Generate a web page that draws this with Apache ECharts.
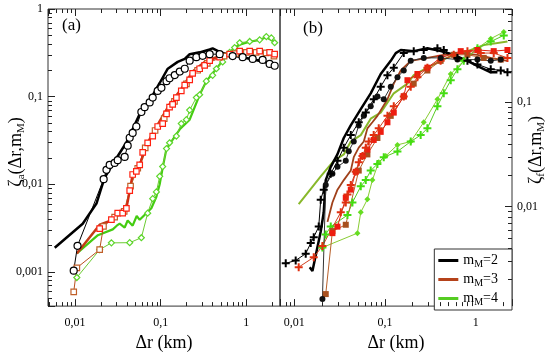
<!DOCTYPE html>
<html><head><meta charset="utf-8">
<script src="https://cdn.jsdelivr.net/npm/echarts@6/dist/echarts.min.js"></script>
<style>html,body{margin:0;padding:0;background:#fff}#c{width:550px;height:357px}</style>
</head><body><div id="c"></div>
<script>
// ---------- Panel (a) data : [Δr (km), ζa] ----------
const aBlackLine = [[0.0058,0.00188],[0.0123,0.00354],[0.0149,0.00467],[0.0178,0.00602],[0.0198,0.0084],[0.0222,0.0119],[0.0304,0.0198],[0.0398,0.0299],[0.0569,0.0634],[0.0778,0.0975],[0.0974,0.143],[0.121,0.208],[0.158,0.249],[0.191,0.269],[0.218,0.305],[0.285,0.320],[0.373,0.345],[0.404,0.355],[0.50,0.32],[0.639,0.30],[1.09,0.27],[1.6,0.25],[1.95,0.235]];
const aBlackCircles = [[0.00966,0.00103],[0.0107,0.00198],[0.0216,0.0114],[0.0233,0.0146],[0.0254,0.0166],[0.029,0.0175],[0.0315,0.0188],[0.038,0.0205],[0.0412,0.0275],[0.0435,0.0339],[0.0471,0.0385],[0.052,0.0456],[0.0595,0.0667],[0.065,0.0757],[0.0744,0.0859],[0.0807,0.0975],[0.0923,0.116],[0.102,0.126],[0.117,0.150],[0.127,0.162],[0.146,0.176],[0.167,0.193],[0.191,0.208],[0.218,0.257],[0.261,0.282],[0.309,0.292],[0.373,0.305],[0.488,0.305],[0.692,0.29],[0.905,0.282],[1.185,0.269],[1.549,0.262],[1.869,0.236],[2.14,0.225]];
const aRedLine = [[0.0105,0.00162],[0.0194,0.00345],[0.0275,0.00392],[0.0398,0.0053],[0.0435,0.0084],[0.0471,0.0129],[0.0569,0.0166],[0.0705,0.0297],[0.0923,0.048],[0.127,0.0817],[0.174,0.122],[0.236,0.193],[0.326,0.249],[0.488,0.292],[0.73,0.325],[1.094,0.33],[1.65,0.33],[2.14,0.31]];
const aRedSquares = [[0.0194,0.00311],[0.0266,0.00395],[0.0315,0.00467],[0.036,0.00467],[0.0398,0.00531],[0.0435,0.00844],[0.0471,0.0129],[0.052,0.014],[0.0569,0.0166],[0.0617,0.0231],[0.0705,0.0297],[0.0807,0.0354],[0.0923,0.0456],[0.1055,0.0492],[0.117,0.0634],[0.127,0.0757],[0.138,0.0817],[0.1525,0.0975],[0.174,0.116],[0.191,0.135],[0.218,0.155],[0.236,0.184],[0.285,0.208],[0.326,0.227],[0.373,0.257],[0.488,0.282],[0.639,0.305],[0.835,0.331],[1.094,0.331],[1.43,0.331],[1.869,0.32],[2.14,0.305]];
const aBrownSquares = [[0.00966,0.00059],[0.0105,0.00111],[0.0194,0.00179],[0.0215,0.0033],[0.029,0.0042],[0.0375,0.0049],[0.0445,0.0095],[0.054,0.0152],[0.066,0.026],[0.086,0.041],[0.11,0.056],[0.145,0.088],[0.2,0.14],[0.27,0.2],[0.35,0.24],[0.55,0.29],[0.75,0.31],[1.0,0.32],[1.3,0.32],[1.7,0.315],[2.1,0.29]];
const aGreenLine = [[0.0105,0.00162],[0.0185,0.00262],[0.0276,0.00305],[0.0307,0.00336],[0.0332,0.00354],[0.038,0.0032],[0.0412,0.00385],[0.0471,0.00336],[0.0525,0.00433],[0.0569,0.00392],[0.068,0.00467],[0.0778,0.00531],[0.0891,0.00719],[0.0974,0.01],[0.1055,0.0154],[0.117,0.0255],[0.167,0.0423],[0.218,0.0545],[0.285,0.105],[0.341,0.150],[0.447,0.208],[0.584,0.290],[0.692,0.345],[0.835,0.392],[1.094,0.423],[1.43,0.445],[1.71,0.476],[2.14,0.423]];
const aGreenDiamonds = [[0.0105,0.00086],[0.0194,0.00179],[0.0266,0.00214],[0.0435,0.00215],[0.0595,0.00245],[0.0705,0.00467],[0.0807,0.00684],[0.0891,0.00817],[0.0974,0.0123],[0.1055,0.0159],[0.117,0.0255],[0.127,0.0297],[0.1525,0.0354],[0.174,0.0492],[0.1995,0.0545],[0.218,0.0702],[0.261,0.0975],[0.285,0.105],[0.341,0.150],[0.404,0.175],[0.447,0.208],[0.529,0.249],[0.639,0.320],[0.73,0.363],[0.835,0.412],[1.094,0.426],[1.43,0.445],[1.711,0.484],[1.958,0.468],[2.14,0.412]];

// ---------- Panel (b) data : [Δr (km), ζf] ----------
const bBlackLine = [[0.01478,0.00261],[0.01584,0.0024],[0.01954,0.00574],[0.02109,0.00879],[0.02219,0.0179],[0.02519,0.024],[0.02985,0.0316],[0.03506,0.0454],[0.04186,0.06],[0.054,0.0861],[0.0695,0.122],[0.0896,0.187],[0.1156,0.25],[0.1313,0.297],[0.1491,0.318],[0.2072,0.31],[0.2934,0.33],[0.4115,0.31],[0.572,0.286],[0.81,0.25],[1.135,0.215],[1.463,0.194],[1.733,0.194]];
const bBlackCircles = [[0.0204,0.00129],[0.0222,0.0161],[0.0263,0.0206],[0.0299,0.024],[0.0369,0.0274],[0.0398,0.0339],[0.0452,0.042],[0.0513,0.06],[0.0583,0.0741],[0.0695,0.0918],[0.0824,0.114],[0.0968,0.107],[0.1156,0.141],[0.1371,0.174],[0.1608,0.202],[0.192,0.25],[0.267,0.267],[0.4115,0.267],[0.628,0.257],[1.044,0.257],[1.463,0.25],[1.887,0.257]];
const bBlackPlus = [[0.00804,0.00284],[0.01035,0.00303],[0.01335,0.00352],[0.01516,0.00445],[0.01637,0.00506],[0.01858,0.0064],[0.01954,0.0116],[0.0211,0.0145],[0.0252,0.0206],[0.0299,0.0274],[0.0351,0.0367],[0.0419,0.0484],[0.0513,0.0643],[0.0613,0.0796],[0.075,0.107],[0.0896,0.141],[0.1063,0.182],[0.1248,0.215],[0.1608,0.297],[0.2072,0.31],[0.267,0.318],[0.378,0.33],[0.444,0.318],[0.628,0.267],[0.81,0.25],[1.044,0.231],[1.463,0.208],[1.887,0.202],[2.237,0.194]];
const bBrownLine = [[0.0232,0.00711],[0.0263,0.0109],[0.0299,0.0145],[0.0351,0.0179],[0.0419,0.0221],[0.0452,0.0297],[0.0513,0.0367],[0.0583,0.042],[0.0639,0.0562],[0.0725,0.0643],[0.0824,0.0741],[0.1063,0.107],[0.1248,0.151],[0.1491,0.202],[0.192,0.25],[0.293,0.267],[0.444,0.286],[0.683,0.297],[1.044,0.286],[1.463,0.267],[2.237,0.25]];
const bGreenLine = [[0.01117,0.0105],[0.01954,0.0194],[0.0272,0.0274],[0.0351,0.0316],[0.0419,0.042],[0.054,0.0484],[0.0695,0.0696],[0.0896,0.0796],[0.1248,0.122],[0.1766,0.151],[0.2072,0.182],[0.293,0.215],[0.4115,0.25],[0.572,0.286],[0.81,0.31],[1.225,0.354],[2.237,0.383]];
const bRedPlus = [[0.01117,0.00261],[0.01637,0.00325],[0.0204,0.00417],[0.0325,0.00879],[0.0369,0.0109],[0.0385,0.013],[0.0419,0.0161],[0.0475,0.0215],[0.0513,0.0266],[0.0564,0.0305],[0.0613,0.0367],[0.0661,0.042],[0.075,0.0484],[0.0852,0.0562],[0.1063,0.0741],[0.1248,0.0918],[0.1608,0.114],[0.192,0.141],[0.2275,0.174],[0.293,0.215],[0.41,0.25],[0.572,0.286],[0.81,0.31],[1.135,0.297],[1.578,0.297],[2.237,0.267]];
const bRedSquares = [[0.0263,0.00554],[0.0299,0.0064],[0.0369,0.0121],[0.0419,0.0145],[0.0475,0.0215],[0.0564,0.0305],[0.0639,0.0352],[0.075,0.0435],[0.0896,0.052],[0.1063,0.0643],[0.1248,0.0796],[0.1608,0.114],[0.1766,0.163],[0.2275,0.187],[0.293,0.215],[0.41,0.267],[0.683,0.31],[1.044,0.318],[1.578,0.31],[2.237,0.318]];
const bBrownSquares = [[0.0222,0.00144],[0.0263,0.0058],[0.0369,0.00667],[0.0513,0.0221],[0.0639,0.0316],[0.0824,0.0454],[0.1156,0.0741],[0.161,0.114],[0.207,0.151],[0.293,0.202],[0.41,0.25],[0.572,0.286],[0.81,0.286],[1.225,0.267],[1.887,0.257]];
const bGreenPlus = [[0.0204,0.00403],[0.0222,0.00539],[0.0252,0.0064],[0.0385,0.00826],[0.0437,0.0109],[0.054,0.0156],[0.0613,0.0179],[0.0695,0.0221],[0.0824,0.0255],[0.0968,0.0297],[0.137,0.0337],[0.192,0.042],[0.247,0.0484],[0.293,0.0562],[0.378,0.0918],[0.444,0.122],[0.53,0.163],[0.628,0.208],[0.737,0.25],[1.044,0.33],[1.463,0.383],[2.036,0.439]];
const bGreenDiamonds = [[0.0204,0.00403],[0.0496,0.00554],[0.054,0.00879],[0.0639,0.0117],[0.0725,0.0179],[0.0852,0.0266],[0.1018,0.0305],[0.137,0.039],[0.192,0.042],[0.267,0.0643],[0.378,0.107],[0.53,0.187],[0.737,0.25],[1.044,0.33],[1.463,0.408],[2.036,0.474]];

const legendNames = ['mM=2','mM=3','mM=4'];
const xTitle = 'Δr (km)';

// ---------- layout / style ----------
const FONT = '"Liberation Serif", "DejaVu Serif", serif';
const xRangeA = [0.00484, 2.47];
const yRangeA = [0.000406, 1];
const xRangeB = [0.00695, 2.51];
const yRangeB = [0.001104, 0.787];
const TICK = '#222';

function decLabel(v){
  const e = Math.log10(v), r = Math.round(e);
  if (Math.abs(e - r) > 1e-6) return '';
  if (r >= 0) return String(Math.pow(10, r));
  return '0,' + '0'.repeat(-r - 1) + '1';
}
function minorVals(lo, hi){
  const out = [];
  for (let e = -5; e <= 1; e++) for (let m = 2; m <= 9; m++) {
    const v = m * Math.pow(10, e);
    if (v > lo * 1.0001 && v < hi * 0.9999) out.push(v);
  }
  return out;
}
function xMinor(xi, yi, yr, vals){
  return {type:'custom', xAxisIndex:xi, yAxisIndex:yi, silent:true, clip:false, z:5, animation:false,
    data: vals.map(v => [v, yr[0]]),
    renderItem: (p, api) => {
      const v = api.value(0), b = api.coord([v, yr[0]]), t = api.coord([v, yr[1]]);
      const x = Math.round(b[0]) + 0.5;
      return {type:'group', children:[
        {type:'line', shape:{x1:x, y1:b[1], x2:x, y2:b[1]-4}, style:{stroke:TICK, lineWidth:1}},
        {type:'line', shape:{x1:x, y1:t[1], x2:x, y2:t[1]+4}, style:{stroke:TICK, lineWidth:1}}
      ]};
    }};
}
function yMinor(xi, yi, xr, vals, right){
  return {type:'custom', xAxisIndex:xi, yAxisIndex:yi, silent:true, clip:false, z:5, animation:false,
    data: vals.map(v => [right ? xr[1] : xr[0], v]),
    renderItem: (p, api) => {
      const v = api.value(1), c = api.coord([right ? xr[1] : xr[0], v]);
      const y = Math.round(c[1]) + 0.5;
      return {type:'line', shape:{x1:c[0], y1:y, x2:c[0] + (right ? -4 : 4), y2:y}, style:{stroke:TICK, lineWidth:1}};
    }};
}
function xAx(grid, r, top, name){
  return {type:'log', logBase:10, gridIndex:grid, min:r[0], max:r[1], position: top ? 'top' : 'bottom',
    axisLine:{show:false}, splitLine:{show:false},
    axisTick:{inside:true, length:7, lineStyle:{color:TICK}},
    axisLabel:{show:!top, formatter:decLabel, fontFamily:FONT, fontSize:12, color:'#000', margin:11},
    name: top ? '' : name, nameLocation:'middle', nameGap:24,
    nameTextStyle:{fontFamily:FONT, fontSize:18, color:'#000'}};
}
function yAx(grid, r, right){
  return {type:'log', logBase:10, gridIndex:grid, min:r[0], max:r[1], position: right ? 'right' : 'left',
    axisLine:{show:false}, splitLine:{show:false},
    axisTick:{inside:true, length:7, lineStyle:{color:TICK}},
    axisLabel:{formatter:decLabel, fontFamily:FONT, fontSize:12, color:'#000', margin:5}};
}
const PLUS = 'path://M3,0h2v3h3v2h-3v3h-2v-3h-3v-2h3z';
function line(name, data, xi, yi, color, w, extra){
  return Object.assign({type:'line', name, data, xAxisIndex:xi, yAxisIndex:yi, symbol:'none',
    lineStyle:{color, width:w}, itemStyle:{color}, animation:false, z:2}, extra || {});
}
function marked(name, data, xi, yi, color, lineColor, symbol, size, hollow){
  return {type:'line', name, data, xAxisIndex:xi, yAxisIndex:yi, symbol, symbolSize:size, showSymbol:true,
    lineStyle:{color:lineColor, width:1},
    itemStyle: hollow ? {color:'#fff', borderColor:color, borderWidth:1.2, opacity:1} : {color, borderWidth:0},
    animation:false, z:3};
}

const subRich = {
  z:{fontFamily:FONT, fontSize:18, lineHeight:22, color:'#000'},
  s:{fontFamily:FONT, fontSize:11, lineHeight:11, verticalAlign:'bottom', color:'#000'}
};

const chart = echarts.init(document.getElementById('c'), null, {renderer:'canvas'});
chart.setOption({
  animation:false,
  backgroundColor:'#fff',
  grid:[
    {left:48, top:9, width:232, height:309, show:true, borderColor:'#333', borderWidth:1, backgroundColor:'transparent'},
    {left:280, top:9, width:232, height:309, show:true, borderColor:'#333', borderWidth:1, backgroundColor:'transparent'}
  ],
  xAxis:[xAx(0, xRangeA, false, xTitle), xAx(0, xRangeA, true), xAx(1, xRangeB, false, xTitle), xAx(1, xRangeB, true)],
  yAxis:[yAx(0, yRangeA, false), yAx(1, yRangeB, true)],
  legend:{
    data:[
      {name:legendNames[0], itemStyle:{color:'#000'}},
      {name:legendNames[1], itemStyle:{color:'#b5421a'}},
      {name:legendNames[2], itemStyle:{color:'#55cc22'}}
    ],
    orient:'vertical', right:38, bottom:47, icon:'rect', itemWidth:20, itemHeight:3, itemGap:2,
    borderColor:'#333', borderWidth:1, padding:[3,14,3,4], backgroundColor:'#fff',
    formatter: n => 'm{s|M}=' + n.slice(3),
    textStyle:{fontFamily:FONT, fontSize:14, lineHeight:17, color:'#000',
      rich:{s:{fontFamily:FONT, fontSize:10, lineHeight:10, verticalAlign:'bottom', color:'#000'}}},
    selectedMode:false
  },
  graphic:[
    {type:'text', left:62, top:17, style:{text:'(a)', font:'17px "Liberation Serif"', fill:'#000'}},
    {type:'text', left:303, top:20, style:{text:'(b)', font:'17px "Liberation Serif"', fill:'#000'}},
    {type:'text', x:16, y:152, rotation:Math.PI/2,
      style:{text:'{z|ζ}{s|a}{z|(Δr,m}{s|M}{z|)}', rich:subRich, align:'center', verticalAlign:'middle'}},
    {type:'text', x:536, y:150, rotation:Math.PI/2,
      style:{text:'{z|ζ}{s|f}{z|(Δr,m}{s|M}{z|)}', rich:subRich, align:'center', verticalAlign:'middle'}}
  ],
  series:[
    xMinor(0, 0, yRangeA, minorVals(xRangeA[0], xRangeA[1])),
    yMinor(0, 0, xRangeA, minorVals(yRangeA[0], yRangeA[1]), false),
    xMinor(2, 1, yRangeB, minorVals(xRangeB[0], xRangeB[1])),
    yMinor(2, 1, xRangeB, minorVals(yRangeB[0], yRangeB[1]), true),
    // panel (a)
    marked('a-diamonds', aGreenDiamonds, 0, 0, '#5cd62a', '#6ccc33', 'diamond', 6, true),
    line('mM=4', aGreenLine, 0, 0, '#44cc11', 2.2),
    marked('a-brownsq', aBrownSquares, 0, 0, '#c0602a', '#b8501e', 'rect', 5.5, true),
    marked('a-redsq', aRedSquares, 0, 0, '#ff2010', '#e02010', 'rect', 5.5, true),
    line('mM=3', aRedLine, 0, 0, '#c23c18', 2.5),
    marked('a-circles', aBlackCircles, 0, 0, '#000', '#000', 'circle', 7, true),
    line('mM=2', aBlackLine, 0, 0, '#000', 2.5),
    // panel (b)
    marked('b-gdiam', bGreenDiamonds, 2, 1, '#66dd22', '#88cc33', 'diamond', 6, false),
    marked('b-gplus', bGreenPlus, 2, 1, '#44dd11', '#55cc22', PLUS, 8, false),
    line('mM=4', bGreenLine, 2, 1, '#88b82a', 2),
    marked('b-brsq', bBrownSquares, 2, 1, '#a8501e', '#b8602a', 'rect', 6, false),
    marked('b-redsq', bRedSquares, 2, 1, '#ee1c10', '#e02010', 'rect', 6, false),
    marked('b-rplus', bRedPlus, 2, 1, '#e03010', '#d04020', PLUS, 8, false),
    line('mM=3', bBrownLine, 2, 1, '#a0401a', 1.8),
    marked('b-circles', bBlackCircles, 2, 1, '#111', '#333', 'circle', 6, false),
    marked('b-plus', bBlackPlus, 2, 1, '#000', '#000', PLUS, 8, false),
    line('mM=2', bBlackLine, 2, 1, '#000', 2.5)
  ]
});
</script></body></html>
